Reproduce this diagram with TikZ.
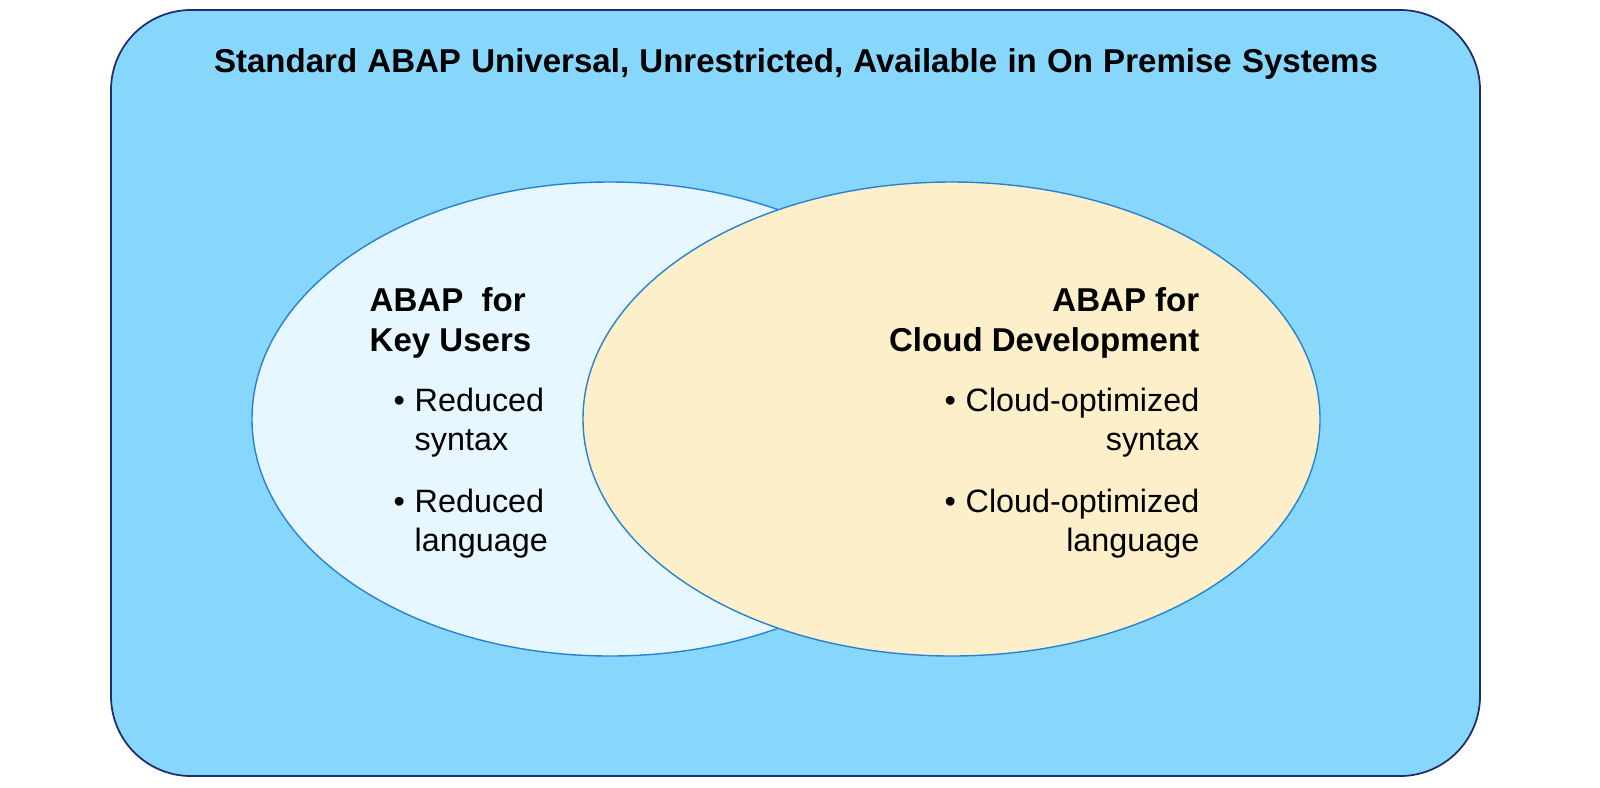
\documentclass[tikz,border=0pt]{standalone}
\usepackage{fontspec}
\setmainfont{Liberation Sans}
\usetikzlibrary{positioning}

\definecolor{rahmenblau}{RGB}{135,215,253}
\definecolor{rahmenlinie}{RGB}{30,45,110}
\definecolor{keyblau}{RGB}{230,247,255}
\definecolor{cloudgelb}{RGB}{253,239,201}
\definecolor{ellipsenlinie}{RGB}{40,130,210}

\newcommand{\punkt}[2]{\begin{tabular}[t]{@{}l@{\hspace{0.3em}}l@{}}\textbullet & #1\\ & #2\end{tabular}}
\newcommand{\punktr}[2]{\begin{tabular}[t]{@{}r@{\hspace{0.3em}}r@{}}\textbullet & #1\\ & #2\end{tabular}}

\begin{document}
\begin{tikzpicture}[
		schrift/.style={inner sep=0pt, font=\fontsize{9.2}{11.1}\selectfont},
		kopf/.style={inner sep=0pt, font=\fontsize{9.4}{11.1}\selectfont\bfseries, align=left},
		menge/.style={draw=ellipsenlinie, line width=0.4pt}
	]
			% Rahmen
			\useasboundingbox (0,0) rectangle (16,7.87);
			\filldraw[fill=rahmenblau, draw=rahmenlinie, line width=0.5pt, rounded corners=0.8cm]
				(1.11,0.11) rectangle (14.80,7.77);
			\node[inner sep=0pt, font=\fontsize{9.4}{11.1}\selectfont\bfseries, anchor=base] (titel) at (7.96,7.15)
				{\spaceskip=0.31em\relax Standard ABAP Universal, Unrestricted, Available in On Premise Systems};

			% Mengen
			\filldraw[menge, fill=keyblau] (6.10,3.68) ellipse (3.58 and 2.37);
			\filldraw[menge, fill=cloudgelb] (9.515,3.68) ellipse (3.685 and 2.37);

			% Key Users (links)
			\node[kopf, anchor=base west] (keykopf) at (3.69,4.36) {ABAP\ \ for\\Key Users};
			\node[schrift, anchor=base west] (keysyntax) at (3.93,3.76) {\punkt{Reduced}{syntax}};
			\node[schrift, anchor=base west] (keysprache) at (3.93,2.75) {\punkt{Reduced}{language}};

			% Cloud Development (rechts)
			\node[kopf, align=right, anchor=base east] (cloudkopf) at (12.00,4.36) {ABAP for\\Cloud Development};
			\node[schrift, anchor=base east] (cloudsyntax) at (12.00,3.76) {\punktr{Cloud-optimized}{syntax}};
			\node[schrift, anchor=base east] (cloudsprache) at (12.00,2.75) {\punktr{Cloud-optimized}{language}};

		\end{tikzpicture}
\end{document}
